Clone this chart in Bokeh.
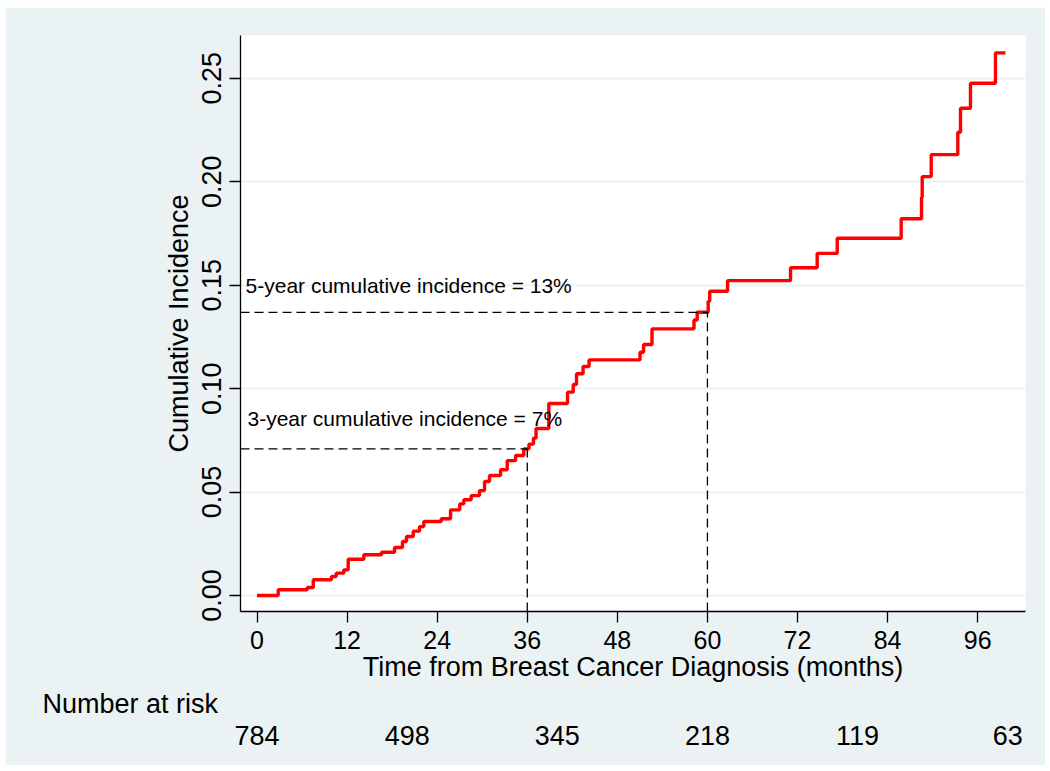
from bokeh.plotting import figure
from bokeh.models import (Range1d, FixedTicker, Label, LinearAxis, Title,
                          NumeralTickFormatter)
from bokeh.embed import file_html
from bokeh.resources import INLINE

# Cumulative incidence: event times (months) and the incidence reached at each event
event_months = [2.82, 6.69, 7.49, 9.92, 10.55, 11.56, 12.15, 14.23, 16.58, 18.32,
                19.38, 19.91, 20.81, 21.65, 22.22, 24.54, 25.78, 27.01, 27.55, 28.53,
                29.64, 30.31, 30.97, 32.44, 33.33, 34.44, 35.54, 36.23, 36.83, 37.17,
                38.87, 41.36, 42.12, 42.56, 43.43, 44.23, 51.02, 51.49, 52.62, 58.21,
                58.64, 60.1, 60.3, 62.68, 71.07, 74.62, 77.29, 85.81, 88.52, 88.61,
                89.81, 93.35, 93.71, 95.04, 98.37]
event_incidence = [0.0028, 0.0039, 0.0076, 0.0092, 0.0108, 0.0124, 0.0175, 0.0197,
                   0.0209, 0.0232, 0.0261, 0.0285, 0.0311, 0.0333, 0.0358, 0.0371,
                   0.0414, 0.0443, 0.0463, 0.0483, 0.0507, 0.0551, 0.0580, 0.0608,
                   0.0652, 0.0677, 0.0709, 0.0732, 0.0761, 0.0807, 0.0928, 0.0983,
                   0.1020, 0.1072, 0.1107, 0.1139, 0.1176, 0.1213, 0.1289, 0.1332,
                   0.1369, 0.1422, 0.1471, 0.1522, 0.1584, 0.1654, 0.1727, 0.1821,
                   0.1925, 0.2025, 0.2131, 0.2239, 0.2355, 0.2476, 0.2623]
follow_up_end = 99.7

x_ticks = [0, 12, 24, 36, 48, 60, 72, 84, 96]
y_ticks = [0.0, 0.05, 0.10, 0.15, 0.20, 0.25]

# Number at risk table
risk_months = [0, 20, 40, 60, 80, 100]
risk_counts = ["784", "498", "345", "218", "119", "63"]

# Landmark annotations
landmark_months = [36, 60]
landmark_texts = ["3-year cumulative incidence = 7%", "5-year cumulative incidence = 13%"]

FONT = "Liberation Sans"
BG = "#EAF2F3"


def incidence_at(t):
    v = 0.0
    for m, c in zip(event_months, event_incidence):
        if m <= t:
            v = c
    return v


x0, x1 = -2.2, 102.37
y0, y1 = -0.00773, 0.2707

p = figure(width=1040, height=758, output_backend="svg", toolbar_location=None,
           x_range=Range1d(x0, x1), y_range=Range1d(y0, y1),
           min_border_left=235, min_border_right=20, min_border_top=28,
           min_border_bottom=154)
p.margin = (7, 5, 6, 5)
p.background_fill_color = "white"
p.border_fill_color = BG
p.outline_line_color = None

# grid
p.xgrid.grid_line_color = None
p.ygrid.grid_line_color = BG
p.ygrid.grid_line_width = 2
p.ygrid.ticker = FixedTicker(ticks=y_ticks)

# axes
for ax in (p.xaxis[0], p.yaxis[0]):
    ax.axis_line_color = "black"
    ax.axis_line_width = 1.3
    ax.major_tick_line_color = "black"
    ax.major_tick_line_width = 1.3
    ax.major_tick_out = 11
    ax.major_tick_in = 0
    ax.minor_tick_line_color = None
    ax.major_label_text_font = FONT
    ax.major_label_text_color = "black"
    ax.axis_label_text_font = FONT
    ax.axis_label_text_font_size = "27px"
    ax.axis_label_text_font_style = "normal"
    ax.axis_label_text_color = "black"

p.xaxis.ticker = FixedTicker(ticks=x_ticks)
p.xaxis.axis_label = "Time from Breast Cancer Diagnosis (months)"
p.xaxis.major_label_text_font_size = "25px"
p.xaxis.major_label_standoff = 8
p.xaxis.axis_label_standoff = 0

p.yaxis.ticker = FixedTicker(ticks=y_ticks)
p.yaxis.formatter = NumeralTickFormatter(format="0.00")
p.yaxis.major_label_orientation = "vertical"
p.yaxis.major_label_text_font_size = "27px"
p.yaxis.axis_label = "Cumulative Incidence"
p.yaxis.major_label_standoff = 8
p.yaxis.axis_label_standoff = 6

# step curve
xs = [0.0] + event_months + [follow_up_end]
ys = [0.0] + event_incidence + [event_incidence[-1]]
p.step(xs, ys, mode="after", line_color="#FF0000", line_width=3.4)

# landmark dashed guides
for m in landmark_months:
    v = incidence_at(m)
    p.line([x0, m], [v, v], line_color="black", line_width=1.3, line_dash="9 5")
    p.line([m, m], [y0, v], line_color="black", line_width=1.3, line_dash="9 5")

# landmark texts
p.add_layout(Label(x=-1.27, y=0.0856, text=landmark_texts[0], text_font=FONT,
                   text_font_size="21px", text_color="black",
                   text_baseline="alphabetic", text_align="left"))
p.add_layout(Label(x=-1.53, y=0.1500, text=landmark_texts[1], text_font=FONT,
                   text_font_size="21px", text_color="black",
                   text_baseline="alphabetic", text_align="left"))

# number at risk: heading, then counts on a label-only axis
risk_title = Title(text="Number at risk", align="left", offset=-198, standoff=4,
                   text_font=FONT, text_font_size="27px", text_font_style="normal",
                   text_color="black")
p.add_layout(risk_title, "below")

risk_axis = LinearAxis(ticker=FixedTicker(ticks=risk_months),
                       major_label_overrides={m: c for m, c in zip(risk_months, risk_counts)})
risk_axis.axis_line_color = None
risk_axis.major_tick_line_color = None
risk_axis.minor_tick_line_color = None
risk_axis.major_tick_out = 0
risk_axis.major_tick_in = 0
risk_axis.major_label_standoff = 5
risk_axis.major_label_text_font = FONT
risk_axis.major_label_text_font_size = "27px"
risk_axis.major_label_text_color = "black"
p.add_layout(risk_axis, "below")

open("out.html", "w").write(file_html(p, INLINE))
